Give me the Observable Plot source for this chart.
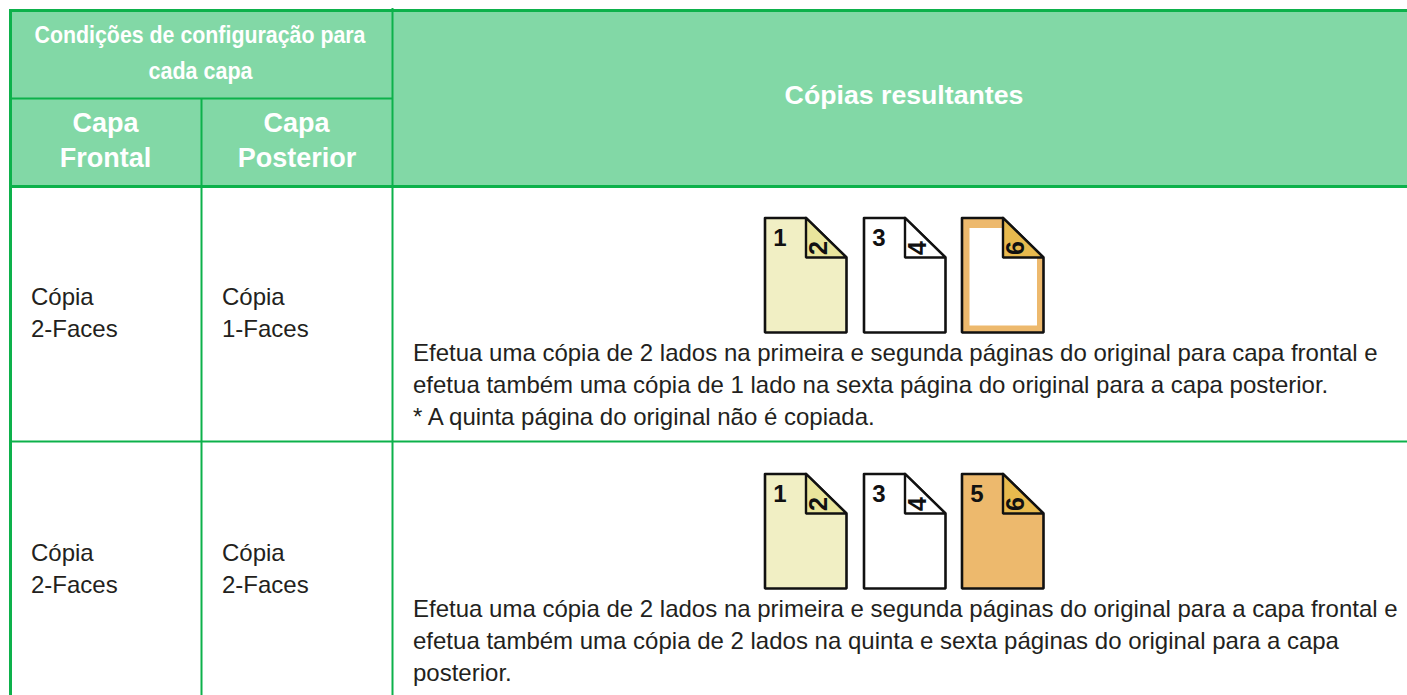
<!DOCTYPE html>
<html><head><meta charset="utf-8">
<style>html,body{margin:0;padding:0;background:#fff;overflow:hidden}svg{display:block}</style>
<script src="https://cdn.jsdelivr.net/npm/d3@7"></script>
<script src="https://cdn.jsdelivr.net/npm/@observablehq/plot@0.6"></script>
</head><body><div id="c"></div>
<script>
const GREEN="#0db14b", HEAD="#82d8a6", FONT="Liberation Sans";
// table panels / rules
const headerPanel=[{x1:10,x2:1407,y1:10,y2:186}];
const hRules=[[9,1407,10,3],[10,392,98,2],[10,1407,186,3],[10,1407,441,2]];
const vRules=[[10,10,695,3],[201,98,695,2],[392,8,695,2]];
// header and cell text
const condensedHeads=[
 {t:"Condições de configuração para",x:199.5,y:35,w:331},
 {t:"cada capa",x:200,y:71,w:104}
];
const heads=[
 {t:"Capa",x:105,y:123},
 {t:"Frontal",x:105,y:158},
 {t:"Capa",x:296,y:123},
 {t:"Posterior",x:296.5,y:158}
];
const resultHead=[{t:"Cópias resultantes",x:903.5,y:95}];
const cells=[
 {t:"Cópia",x:30.5,y:297},{t:"2-Faces",x:30.5,y:329},
 {t:"Cópia",x:221.5,y:297},{t:"1-Faces",x:221.5,y:329},
 {t:"Cópia",x:30.5,y:553},{t:"2-Faces",x:30.5,y:585},
 {t:"Cópia",x:221.5,y:553},{t:"2-Faces",x:221.5,y:585},
 {t:"Efetua uma cópia de 2 lados na primeira e segunda páginas do original para capa frontal e",x:412.5,y:353},
 {t:"efetua também uma cópia de 1 lado na sexta página do original para a capa posterior.",x:412.5,y:385},
 {t:"* A quinta página do original não é copiada.",x:412.5,y:417},
 {t:"Efetua uma cópia de 2 lados na primeira e segunda páginas do original para a capa frontal e",x:412.5,y:609},
 {t:"efetua também uma cópia de 2 lados na quinta e sexta páginas do original para a capa",x:412.5,y:641},
 {t:"posterior.",x:412.5,y:673}
];
// page icons
const pageLefts=[764.5,863.5,961.5];
const rowTops=[217.5,473.5];
const pageW=81.5, pageH=114.5, foldW=40.5;
const pages=[
 {row:0,col:0,fill:"#f1efc4",fold:"#e9e59c",front:"1",back:"2"},
 {row:0,col:1,fill:"#ffffff",fold:"#ffffff",front:"3",back:"4"},
 {row:0,col:2,fill:"#edb96d",fold:"#e8ba4e",front:"",back:"6",hollow:true},
 {row:1,col:0,fill:"#f1efc4",fold:"#e9e59c",front:"1",back:"2"},
 {row:1,col:1,fill:"#ffffff",fold:"#ffffff",front:"3",back:"4"},
 {row:1,col:2,fill:"#edb96d",fold:"#e8ba4e",front:"5",back:"6"}
];
const outline=[],folds=[],inner=[],fronts=[],backs=[];
pages.forEach((p,i)=>{
  const L=pageLefts[p.col],T=rowTops[p.row],R=L+pageW,B=T+pageH,F=R-foldW,G=T+foldW-1;
  [[L,T],[F,T],[R,G],[R,B],[L,B],[L,T]].forEach(([x,y])=>outline.push({x,y,i,fill:p.fill}));
  [[F,T],[R,G],[F,G],[F,T]].forEach(([x,y])=>folds.push({x,y,i,fill:p.fold}));
  if(p.hollow) [[L+7.5,T+10],[F,T+10],[F,G],[R-6.5,G],[R-6.5,B-7],[L+7.5,B-7],[L+7.5,T+10]].forEach(([x,y])=>inner.push({x,y,i}));
  if(p.front) fronts.push({t:p.front,x:L+15,y:T+20});
  backs.push({t:p.back,x:F+13,y:T+30});
});
const chart=Plot.plot({
  width:1407,height:695,margin:0,
  x:{domain:[0,1407],range:[0,1407],axis:null},
  y:{domain:[0,695],range:[0,695],axis:null},
  style:{background:"#fff"},
  marks:[
    Plot.rectY(headerPanel,{x1:"x1",x2:"x2",y1:"y1",y2:"y2",fill:HEAD}),
    ...hRules.map(([a,b,y,w])=>Plot.ruleY([y],{x1:a,x2:b,y:d=>d,stroke:GREEN,strokeWidth:w})),
    ...vRules.map(([x,a,b,w])=>Plot.ruleX([x],{y1:a,y2:b,x:d=>d,stroke:GREEN,strokeWidth:w})),
    Plot.text(condensedHeads,{x:"x",y:"y",text:"t",fill:"#fff",fontWeight:"bold",fontSize:24,fontFamily:FONT,textAnchor:"middle",lineAnchor:"middle",className:"cond"}),
    Plot.text(heads,{x:"x",y:"y",text:"t",fill:"#fff",fontWeight:"bold",fontSize:27,fontFamily:FONT,textAnchor:"middle",lineAnchor:"middle"}),
    Plot.text(resultHead,{x:"x",y:"y",text:"t",fill:"#fff",fontWeight:"bold",fontSize:26.7,fontFamily:FONT,textAnchor:"middle",lineAnchor:"middle"}),
    Plot.text(cells,{x:"x",y:"y",text:"t",fill:"#231f20",fontSize:24,fontFamily:FONT,textAnchor:"start",lineAnchor:"middle"}),
    Plot.line(outline,{x:"x",y:"y",z:"i",fill:"fill",stroke:"#111",strokeWidth:2.6,strokeLinejoin:"miter"}),
    Plot.line(inner,{x:"x",y:"y",z:"i",fill:"#fff",stroke:"none"}),
    Plot.line(folds,{x:"x",y:"y",z:"i",fill:"fill",stroke:"#111",strokeWidth:2.4,strokeLinejoin:"miter"}),
    Plot.text(fronts,{x:"x",y:"y",text:"t",fill:"#111",fontWeight:"bold",fontSize:24,fontFamily:FONT,lineAnchor:"middle"}),
    Plot.text(backs,{x:"x",y:"y",text:"t",fill:"#111",fontWeight:"bold",fontSize:25,fontFamily:FONT,rotate:-90,lineAnchor:"middle"})
  ]
});
d3.select(chart).selectAll("g.cond text").each(function(_,i){
  this.setAttribute("textLength",condensedHeads[i].w);
  this.setAttribute("lengthAdjust","spacingAndGlyphs");
});
document.getElementById("c").appendChild(chart);
</script></body></html>
